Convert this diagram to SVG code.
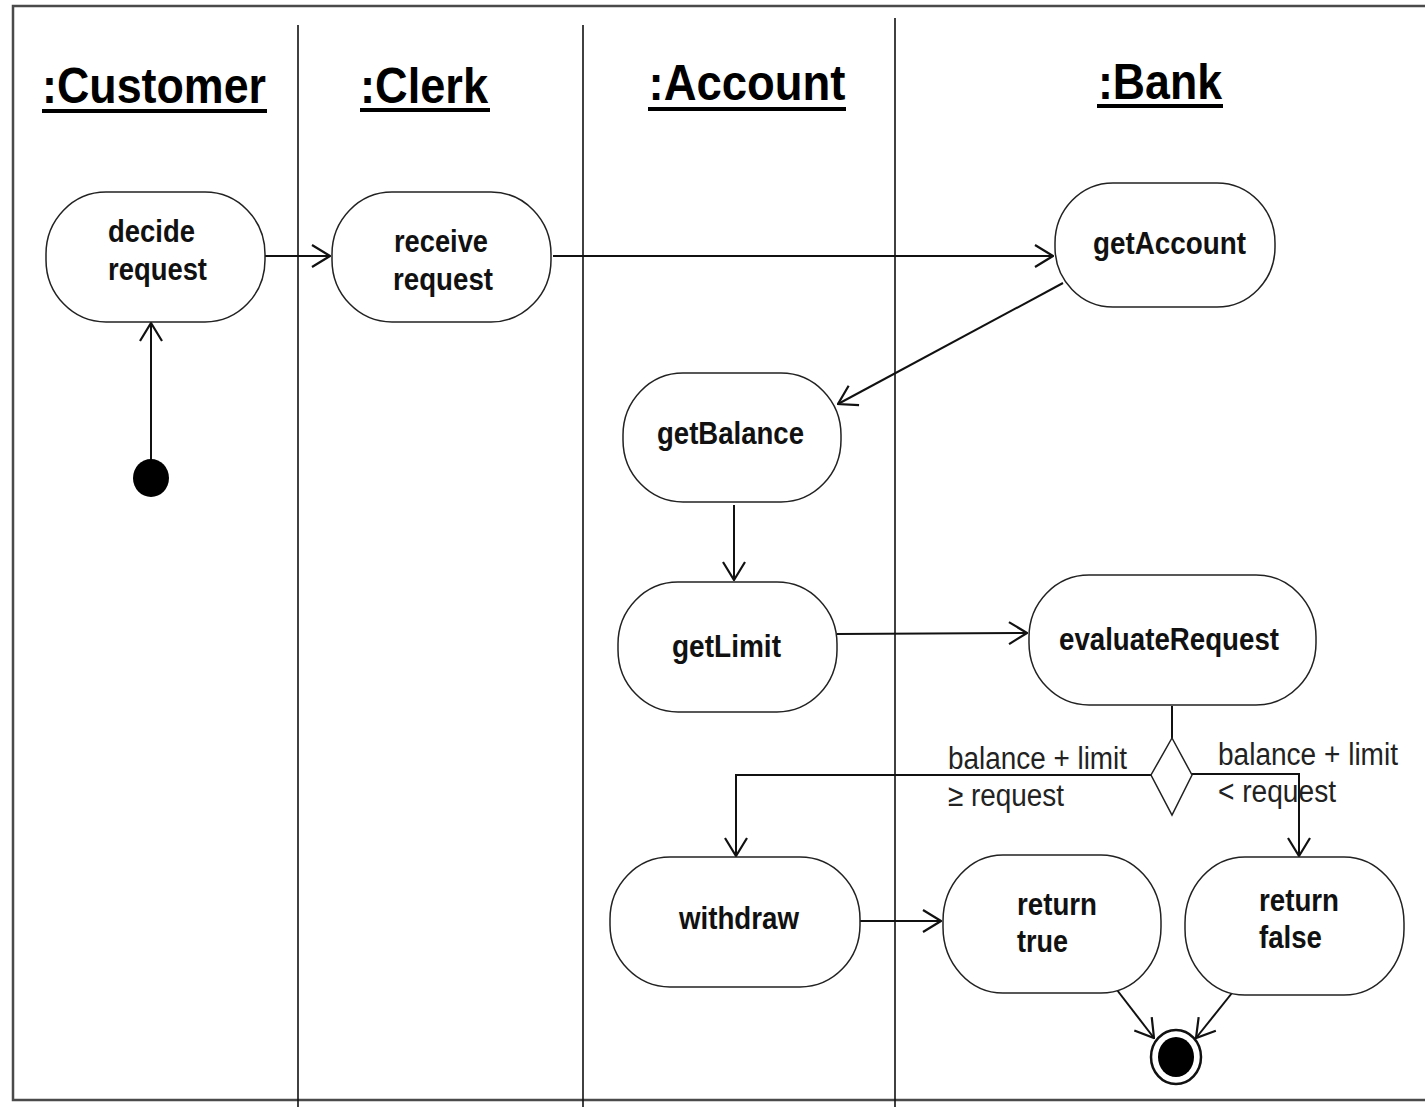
<svg xmlns="http://www.w3.org/2000/svg" width="1425" height="1109" viewBox="0 0 1425 1109">
  <style>
    .frame { fill: none; stroke: #4a4a4a; stroke-width: 2.5; }
    .lane { stroke: #111; stroke-width: 1.6; }
    .title { font-family: "Liberation Sans", Arial, sans-serif; font-weight: bold; font-size: 50px; fill: #000; text-anchor: middle; }
    .uline { fill: #000; }
    .act { fill: #fff; stroke: #222; stroke-width: 1.5; }
    .lbl { font-family: "Liberation Sans", Arial, sans-serif; font-weight: bold; font-size: 31px; fill: #111; }
    .guard { font-family: "Liberation Sans", Arial, sans-serif; font-size: 31px; fill: #222; }
    .edge { fill: none; stroke: #111; stroke-width: 2; marker-end: url(#open); }
    .plain { fill: none; stroke: #111; stroke-width: 2; }
  </style>
  <defs>
    <marker id="open" viewBox="0 0 20 24" refX="19" refY="12" markerWidth="20" markerHeight="24" markerUnits="userSpaceOnUse" orient="auto">
      <path d="M1,1 L19,12 L1,23" fill="none" stroke="#111" stroke-width="2.2"/>
    </marker>
  </defs>

  <rect width="1425" height="1109" fill="#fff"/>

  <!-- swimlane frame and dividers -->
  <g id="lanes">
    <rect class="frame" x="13" y="6" width="1430" height="1094"/>
    <line class="lane" x1="298" y1="25" x2="298" y2="1107"/>
    <line class="lane" x1="583" y1="25" x2="583" y2="1107"/>
    <line class="lane" x1="895" y1="18" x2="895" y2="1107"/>
  </g>

  <!-- lane titles -->
  <g id="lane-customer">
    <text class="title" x="154" y="103" textLength="224" lengthAdjust="spacingAndGlyphs">:Customer</text>
    <rect class="uline" x="42" y="109" width="225" height="4"/>
  </g>
  <g id="lane-clerk">
    <text class="title" x="424" y="103" textLength="128" lengthAdjust="spacingAndGlyphs">:Clerk</text>
    <rect class="uline" x="360" y="108" width="130" height="4"/>
  </g>
  <g id="lane-account">
    <text class="title" x="747" y="100" textLength="197" lengthAdjust="spacingAndGlyphs">:Account</text>
    <rect class="uline" x="648" y="107" width="198" height="4"/>
  </g>
  <g id="lane-bank">
    <text class="title" x="1160" y="99" textLength="124" lengthAdjust="spacingAndGlyphs">:Bank</text>
    <rect class="uline" x="1097" y="104" width="126" height="4"/>
  </g>

  <!-- connectors -->
  <g id="connectors">
    <line class="edge" x1="151" y1="460" x2="151" y2="323"/>
    <line class="edge" x1="265" y1="256" x2="330" y2="256"/>
    <line class="edge" x1="553" y1="256" x2="1053" y2="256"/>
    <line class="edge" x1="1063" y1="283" x2="838" y2="404"/>
    <line class="edge" x1="734" y1="505" x2="734" y2="580"/>
    <line class="edge" x1="837" y1="634" x2="1027" y2="633"/>
    <line class="plain" x1="1172" y1="706" x2="1172" y2="738"/>
    <polyline class="edge" points="1151,775 736,775 736,856"/>
    <polyline class="edge" points="1192,774 1299,774 1299,856"/>
    <line class="edge" x1="860" y1="921" x2="941" y2="921"/>
    <line class="edge" x1="1117" y1="990" x2="1154" y2="1038"/>
    <line class="edge" x1="1232" y1="993" x2="1196" y2="1038"/>
    <text class="guard" x="948" y="769" textLength="179" lengthAdjust="spacingAndGlyphs">balance + limit</text>
    <text class="guard" x="948" y="806" textLength="116" lengthAdjust="spacingAndGlyphs">≥ request</text>
    <text class="guard" x="1218" y="765" textLength="180" lengthAdjust="spacingAndGlyphs">balance + limit</text>
    <text class="guard" x="1218" y="802" textLength="118" lengthAdjust="spacingAndGlyphs">&lt; request</text>
  </g>

  <!-- initial node -->
  <g id="start">
    <ellipse cx="151" cy="478" rx="18" ry="19" fill="#000"/>
  </g>

  <!-- activities -->
  <g id="decide-request">
    <rect class="act" x="46" y="192" width="219" height="130" rx="60" ry="62"/>
    <text class="lbl" x="108" y="242" textLength="87" lengthAdjust="spacingAndGlyphs">decide</text>
    <text class="lbl" x="108" y="280" textLength="99" lengthAdjust="spacingAndGlyphs">request</text>
  </g>
  <g id="receive-request">
    <rect class="act" x="332" y="192" width="219" height="130" rx="60" ry="62"/>
    <text class="lbl" x="394" y="252" textLength="94" lengthAdjust="spacingAndGlyphs">receive</text>
    <text class="lbl" x="393" y="290" textLength="100" lengthAdjust="spacingAndGlyphs">request</text>
  </g>
  <g id="get-account">
    <rect class="act" x="1055" y="183" width="220" height="124" rx="58" ry="60"/>
    <text class="lbl" x="1093" y="254" textLength="153" lengthAdjust="spacingAndGlyphs">getAccount</text>
  </g>
  <g id="get-balance">
    <rect class="act" x="623" y="373" width="218" height="129" rx="60" ry="62"/>
    <text class="lbl" x="657" y="444" textLength="147" lengthAdjust="spacingAndGlyphs">getBalance</text>
  </g>
  <g id="get-limit">
    <rect class="act" x="618" y="582" width="219" height="130" rx="60" ry="62"/>
    <text class="lbl" x="672" y="657" textLength="109" lengthAdjust="spacingAndGlyphs">getLimit</text>
  </g>
  <g id="evaluate-request">
    <rect class="act" x="1029" y="575" width="287" height="130" rx="60" ry="62"/>
    <text class="lbl" x="1059" y="650" textLength="220" lengthAdjust="spacingAndGlyphs">evaluateRequest</text>
  </g>
  <g id="decision">
    <polygon class="act" points="1172,738 1192,775 1172,815 1151,775"/>
  </g>
  <g id="withdraw">
    <rect class="act" x="610" y="857" width="250" height="130" rx="60" ry="62"/>
    <text class="lbl" x="679" y="929" textLength="120" lengthAdjust="spacingAndGlyphs">withdraw</text>
  </g>
  <g id="return-true">
    <rect class="act" x="943" y="855" width="218" height="138" rx="60" ry="66"/>
    <text class="lbl" x="1017" y="915" textLength="80" lengthAdjust="spacingAndGlyphs">return</text>
    <text class="lbl" x="1017" y="952" textLength="51" lengthAdjust="spacingAndGlyphs">true</text>
  </g>
  <g id="return-false">
    <rect class="act" x="1185" y="857" width="219" height="138" rx="60" ry="66"/>
    <text class="lbl" x="1259" y="911" textLength="80" lengthAdjust="spacingAndGlyphs">return</text>
    <text class="lbl" x="1259" y="948" textLength="63" lengthAdjust="spacingAndGlyphs">false</text>
  </g>

  <!-- final node -->
  <g id="end">
    <ellipse cx="1176" cy="1057" rx="25" ry="27" fill="#fff" stroke="#111" stroke-width="2.5"/>
    <ellipse cx="1176" cy="1057" rx="18" ry="20" fill="#000"/>
  </g>
</svg>
